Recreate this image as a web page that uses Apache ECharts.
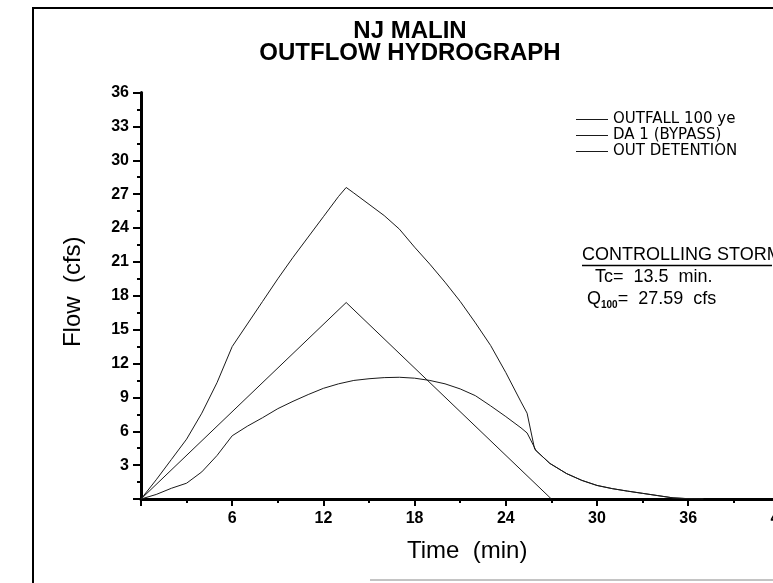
<!DOCTYPE html>
<html>
<head>
<meta charset="utf-8">
<script src="https://cdn.jsdelivr.net/npm/echarts@6/dist/echarts.min.js"></script>
<style>html,body{margin:0;padding:0;background:#fff}#c{width:773px;height:583px}</style>
</head>
<body>
<div id="c"></div>
<script>
// ---- data ----
const seriesNames = ['OUTFALL 100 ye', 'DA 1 (BYPASS)', 'OUT DETENTION'];
const tOutfall = [0,1,2,3,4,5,6,7,8,9,10,11,12,13,13.5,14,15,16,17,18,19,20,21,22,23,24,25,25.4,25.9,26.9,28,29,30,31,32,33,34,35,36,37];
const qOutfall = [0,1.7,3.5,5.3,7.6,10.3,13.5,15.5,17.5,19.5,21.4,23.2,25.0,26.8,27.59,27.1,26.1,25.1,23.9,22.3,20.8,19.2,17.5,15.6,13.6,11.2,8.6,7.6,4.4,3.15,2.25,1.65,1.2,0.92,0.7,0.5,0.3,0.1,0.03,0];
const tBypass = [0,13.5,27];
const qBypass = [0,17.4,0];
const tDet = [0,1,2,3,4,5,6,7,8,9,10,11,12,13,14,15,16,17,18,19,20,21,22,23,24,25,25.4,26,26.9,28,29,30,31,32,33,34,35,36,37];
const qDet = [0,0.4,0.95,1.4,2.4,3.85,5.6,6.45,7.2,8.0,8.65,9.25,9.8,10.2,10.5,10.65,10.75,10.78,10.7,10.5,10.2,9.75,9.15,8.25,7.3,6.3,5.85,4.27,3.15,2.25,1.65,1.2,0.92,0.7,0.5,0.3,0.1,0.03,0];
const xTicks = {min:0, max:42, interval:6};
const yTicks = {min:0, max:36, interval:3};
const titleLines = ['NJ MALIN', 'OUTFLOW HYDROGRAPH'];
const noteLines = ['CONTROLLING STORM', 'Tc=  13.5  min.', '27.59'];

function pairs(t, q){ return t.map((v,i)=>[v,q[i]]); }

const chart = echarts.init(document.getElementById('c'), null, {renderer:'canvas'});
const F = 'Liberation Sans, Arial, sans-serif';
const lineColor = '#1a1a1a';
const mkSeries = (name, t, q) => ({
  name, type:'line', data:pairs(t,q), symbol:'none', showSymbol:false,
  lineStyle:{color:lineColor, width:1}, itemStyle:{color:lineColor}, animation:false
});
chart.setOption({
  animation:false,
  backgroundColor:'#fff',
  grid:{left:141, top:92.5, width:638.4, height:406.5, containLabel:false, outerBoundsMode:'none'},
  legend:{
    orient:'vertical', left:576, top:112, padding:0, itemGap:1,
    icon:'rect', itemWidth:32, itemHeight:1,
    textStyle:{fontFamily:'DejaVu Sans, sans-serif', fontSize:15, color:'#000', lineHeight:12.5, padding:[0,0,0,0]},
    data:seriesNames
  },
  xAxis:{
    type:'value', min:xTicks.min, max:xTicks.max, interval:xTicks.interval,
    name:'Time  (min)', nameLocation:'middle', nameGap:40,
    nameTextStyle:{fontFamily:F, fontSize:24, color:'#000', padding:[0,0,0,14]},
    axisLine:{show:true, onZero:false, lineStyle:{color:'#000', width:3}},
    axisTick:{show:true, inside:false, length:7, lineStyle:{color:'#000', width:2}},
    minorTick:{show:true, splitNumber:2, length:4, lineStyle:{color:'#000', width:2}},
    axisLabel:{showMinLabel:false, margin:12, fontFamily:F, fontWeight:'bold', fontSize:16, color:'#000'},
    splitLine:{show:false}
  },
  yAxis:{
    type:'value', min:yTicks.min, max:yTicks.max, interval:yTicks.interval,
    name:'Flow  (cfs)', nameLocation:'middle', nameGap:56,
    nameTextStyle:{fontFamily:F, fontSize:24, color:'#000', padding:[0,0,0,8]},
    axisLine:{show:true, onZero:false, lineStyle:{color:'#000', width:3}},
    axisTick:{show:true, inside:false, length:8, lineStyle:{color:'#000', width:2}},
    minorTick:{show:true, splitNumber:2, length:4, lineStyle:{color:'#000', width:2}},
    axisLabel:{showMinLabel:false, margin:12, fontFamily:F, fontWeight:'bold', fontSize:16, color:'#000'},
    splitLine:{show:false}
  },
  series:[
    mkSeries(seriesNames[0], tOutfall, qOutfall),
    mkSeries(seriesNames[1], tBypass, qBypass),
    mkSeries(seriesNames[2], tDet, qDet)
  ],
  graphic:[
    {type:'polyline', silent:true, shape:{points:[[33,583],[33,8],[773,8]]}, style:{stroke:'#000', lineWidth:2, fill:null}},
    {type:'line', silent:true, shape:{x1:370,y1:580,x2:773,y2:580}, style:{stroke:'#888', lineWidth:1}},
    {type:'text', x:410, y:19, style:{text:titleLines[0], fontFamily:F, fontWeight:'bold', fontSize:24, fill:'#000', align:'center', textAlign:'center', verticalAlign:'top'}},
    {type:'text', x:410, y:41, style:{text:titleLines[1], fontFamily:F, fontWeight:'bold', fontSize:24, fill:'#000', align:'center', textAlign:'center', verticalAlign:'top'}},
    {type:'text', x:582, y:246, style:{text:noteLines[0], fontFamily:F, fontSize:18, fill:'#000', verticalAlign:'top'}},
    {type:'line', silent:true, shape:{x1:582,y1:265.5,x2:772,y2:265.5}, style:{stroke:'#000', lineWidth:1.5}},
    {type:'text', x:595, y:268, style:{text:noteLines[1], fontFamily:F, fontSize:18, fill:'#000', verticalAlign:'top'}},
    {type:'text', x:587, y:290, style:{
      text:'{q|Q}{s|100}{q|=  ' + noteLines[2] + '  cfs}', fontFamily:F, verticalAlign:'top',
      rich:{
        q:{fontFamily:F, fontSize:18, fill:'#000', color:'#000', verticalAlign:'bottom'},
        s:{fontFamily:F, fontSize:10, fontWeight:'bold', fill:'#000', color:'#000', verticalAlign:'bottom', padding:[0,0,-2,0]}
      }
    }}
  ]
});
</script>
</body>
</html>
